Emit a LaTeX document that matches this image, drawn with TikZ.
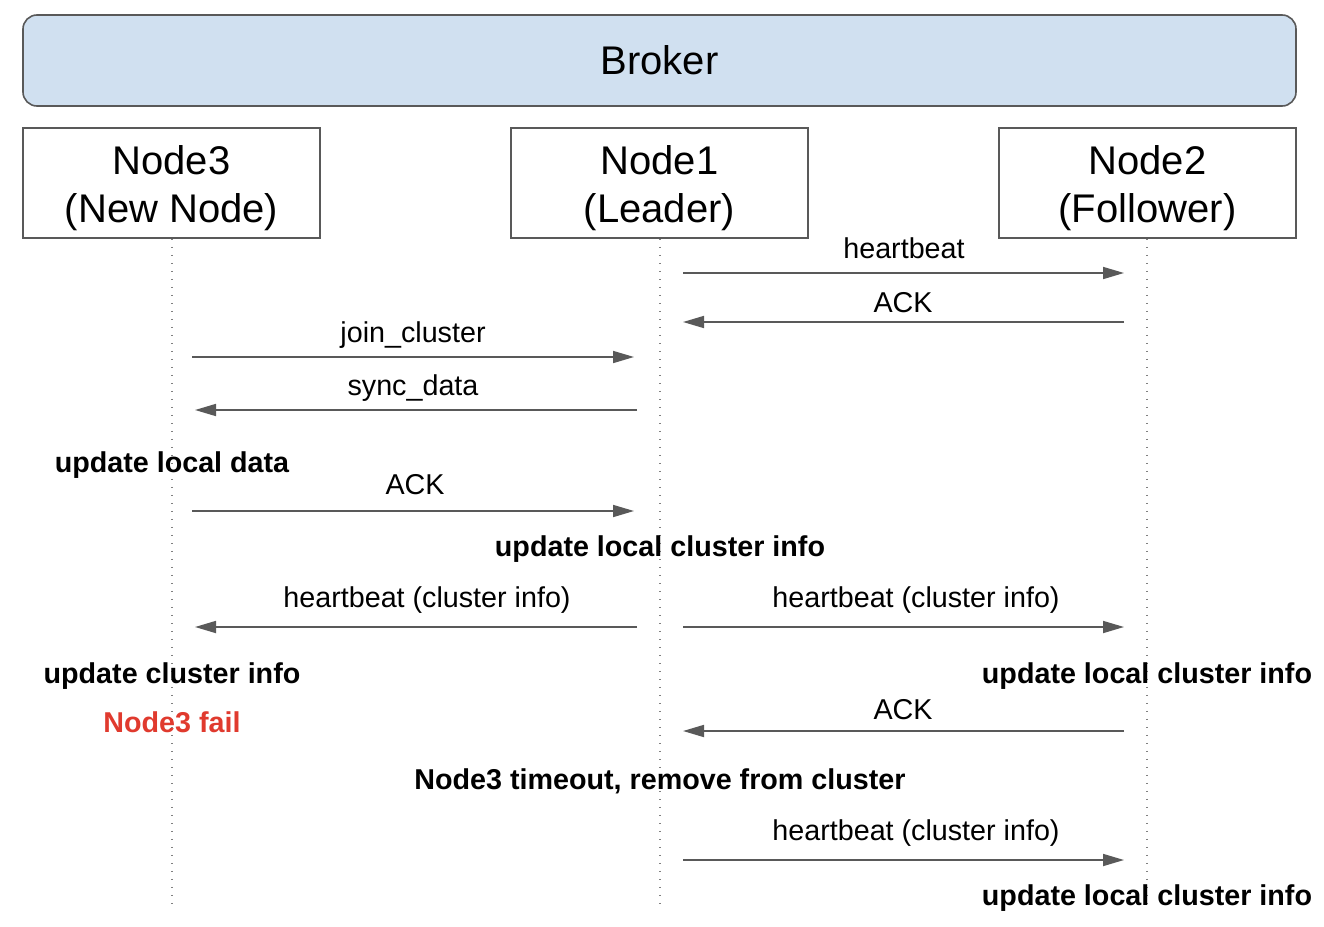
\documentclass[tikz,border=0pt]{standalone}
\usepackage{fontspec}
\setmainfont{Liberation Sans}
\usetikzlibrary{arrows.meta}
\definecolor{linegray}{HTML}{595959}
\definecolor{brokerfill}{HTML}{D0E0F0}
\definecolor{failred}{HTML}{E03A2E}
\newcommand{\topstrut}{\rule{0pt}{39pt}}
\tikzset{
  boxstyle/.style={draw=linegray, line width=1.6pt, fill=white, minimum width=297pt, minimum height=110pt, inner sep=0pt, align=center, font=\fontsize{40}{48}\selectfont},
  brokerstyle/.style={draw=linegray, line width=1.6pt, fill=brokerfill, rounded corners=14pt, minimum width=1273pt, minimum height=91pt, inner sep=0pt, font=\fontsize{40}{48}\selectfont},
  lifeline/.style={draw=gray, line width=1.6pt, dash pattern=on 1.6pt off 6.4pt},
  msg/.style={draw=linegray, line width=1.7pt, -{Triangle[length=21pt,width=12pt]}},
  msglabel/.style={anchor=base, inner sep=0pt, font=\fontsize{28.7}{34}\selectfont},
  note/.style={anchor=base, inner sep=0pt, font=\fontsize{28.7}{34}\selectfont\bfseries},
}
\begin{document}
\begin{tikzpicture}[x=1pt,y=-1pt]
\useasboundingbox (0,0) rectangle (1324,926);
% broker
\node[brokerstyle] (broker) at (659.5,60.5) {\raisebox{-2pt}{Broker}};
% participants
\node[boxstyle] (n3) at (171.5,183) {\topstrut Node3\\(New Node)};
\node[boxstyle] (n1) at (659.5,183) {\topstrut Node1\\(Leader)};
\node[boxstyle] (n2) at (1147.5,183) {\topstrut Node2\\(Follower)};
% lifeline ends
\coordinate (e3) at (172,908);
\coordinate (e1) at (660,908);
\coordinate (e2) at (1147,908);
\draw[lifeline] (n3.south -| e3) -- (e3);
\draw[lifeline] (n1.south -| e1) -- (e1);
\draw[lifeline] (n2.south -| e2) -- (e2);
% message end points
\coordinate (m1a) at (683,273);  \coordinate (m1b) at (1124,273);
\coordinate (m2a) at (1124,322); \coordinate (m2b) at (683,322);
\coordinate (m3a) at (192,357);  \coordinate (m3b) at (634,357);
\coordinate (m4a) at (637,410);  \coordinate (m4b) at (195,410);
\coordinate (m5a) at (192,511);  \coordinate (m5b) at (634,511);
\coordinate (m6a) at (637,627);  \coordinate (m6b) at (195,627);
\coordinate (m7a) at (683,627);  \coordinate (m7b) at (1124,627);
\coordinate (m8a) at (1124,731); \coordinate (m8b) at (683,731);
\coordinate (m9a) at (683,860);  \coordinate (m9b) at (1124,860);
% messages
\draw[msg] (m1a) -- (m1b);
\node[msglabel] (l1) at (904,258) {heartbeat};
\draw[msg] (m2a) -- (m2b);
\node[msglabel] (l2) at (903,312) {ACK};
\draw[msg] (m3a) -- (m3b);
\node[msglabel] (l3) at (413,342) {join\_cluster};
\draw[msg] (m4a) -- (m4b);
\node[msglabel] (l4) at (413,395) {sync\_data};
\node[note] (t1) at (172,472) {update local data};
\draw[msg] (m5a) -- (m5b);
\node[msglabel] (l5) at (415,494) {ACK};
\node[note] (t2) at (660,556) {update local cluster info};
\draw[msg] (m6a) -- (m6b);
\node[msglabel] (l6) at (427,607) {heartbeat (cluster info)};
\draw[msg] (m7a) -- (m7b);
\node[msglabel] (l7) at (916,607) {heartbeat (cluster info)};
\node[note] (t3) at (172,683) {update cluster info};
\node[note] (t4) at (1147,683) {update local cluster info};
\node[note, text=failred] (t5) at (172,732) {Node3 fail};
\draw[msg] (m8a) -- (m8b);
\node[msglabel] (l8) at (903,719) {ACK};
\node[note] (t6) at (660,789) {Node3 timeout, remove from cluster};
\draw[msg] (m9a) -- (m9b);
\node[msglabel] (l9) at (916,840) {heartbeat (cluster info)};
\node[note] (t7) at (1147,905) {update local cluster info};
\end{tikzpicture}
\end{document}
